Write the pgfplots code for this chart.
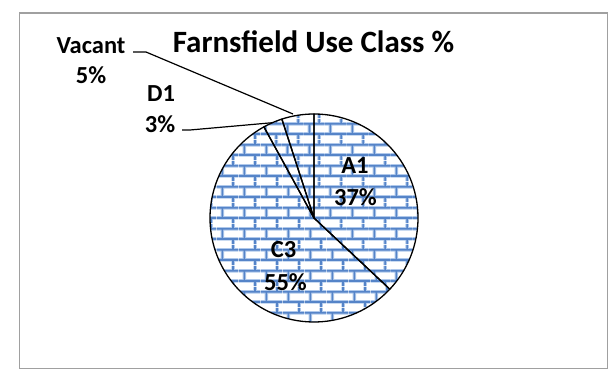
\documentclass[border=0pt]{standalone}
\usepackage{pgfplots}
\pgfplotsset{compat=1.18}
\usepackage{pgfplotstable}
\usepackage{fontspec}
\setmainfont{Carlito}
\usetikzlibrary{patterns}
\definecolor{brickblue}{RGB}{85,132,200}
\definecolor{bricklight}{RGB}{175,200,235}
\definecolor{framegray}{RGB}{160,160,160}
\newcommand\brickpattern[2]{%
\pgfdeclarepatternformonly{#1}{\pgfqpoint{0pt}{0pt}}{\pgfqpoint{21.7pt}{21pt}}{\pgfqpoint{21.7pt}{21pt}}{%
 \pgfsetlinewidth{#2}%
 \pgfpathmoveto{\pgfqpoint{0pt}{5.25pt}}\pgfpathlineto{\pgfqpoint{21.7pt}{5.25pt}}%
 \pgfpathmoveto{\pgfqpoint{0pt}{15.75pt}}\pgfpathlineto{\pgfqpoint{21.7pt}{15.75pt}}%
 \pgfpathmoveto{\pgfqpoint{5.4pt}{5.25pt}}\pgfpathlineto{\pgfqpoint{5.4pt}{15.75pt}}%
 \pgfpathmoveto{\pgfqpoint{16.25pt}{15.75pt}}\pgfpathlineto{\pgfqpoint{16.25pt}{21pt}}%
 \pgfpathmoveto{\pgfqpoint{16.25pt}{0pt}}\pgfpathlineto{\pgfqpoint{16.25pt}{5.25pt}}%
 \pgfusepath{stroke}%
}}
\brickpattern{bricksoft}{3.6pt}
\brickpattern{brickcore}{1.7pt}
\pgfplotstableread{
label value
A1 37
C3 55
D1 3
Vacant 5
}\piedata
\begin{document}
\begin{tikzpicture}
\begin{axis}[scale only axis, width=614pt, height=370pt,
  xmin=0, xmax=614, ymin=0, ymax=370, hide axis, clip=false]
\path (axis cs:0,0) rectangle (axis cs:614,370);
\draw[framegray, line width=1.6pt] (axis cs:19.5,1.5) rectangle (axis cs:607.5,357);
\def\cx{314}\def\cy{152}
\gdef\startang{90}
\pgfplotsforeachungrouped \i in {0,...,3}{%
  \pgfplotstablegetelem{\i}{value}\of\piedata
  \pgfmathsetmacro\endang{\startang-3.6*\pgfplotsretval}%
  \edef\temp{%
    \noexpand\fill[white] (axis cs:\cx,\cy) -- ++(\startang:104pt) arc[start angle=\startang, end angle=\endang, radius=104pt] -- cycle;
    \noexpand\fill[pattern=bricksoft, pattern color=bricklight] (axis cs:\cx,\cy) -- ++(\startang:104pt) arc[start angle=\startang, end angle=\endang, radius=104pt] -- cycle;
    \noexpand\fill[pattern=brickcore, pattern color=brickblue] (axis cs:\cx,\cy) -- ++(\startang:104pt) arc[start angle=\startang, end angle=\endang, radius=104pt] -- cycle;
  }\temp
  \global\let\startang\endang
}
\gdef\startang{90}
\pgfplotsforeachungrouped \i in {0,...,3}{%
  \pgfplotstablegetelem{\i}{value}\of\piedata
  \pgfmathsetmacro\endang{\startang-3.6*\pgfplotsretval}%
  \edef\temp{%
    \noexpand\draw[black, line width=1.3pt, line join=round] (axis cs:\cx,\cy) -- ++(\startang:104pt) arc[start angle=\startang, end angle=\endang, radius=104pt] -- cycle;
  }\temp
  \global\let\startang\endang
}
% leader lines
\draw[black, line width=1.2pt] (axis cs:133,318) -- (axis cs:146,318) -- (axis cs:293,256);
\draw[black, line width=1.2pt] (axis cs:182,240) -- (axis cs:190,240) -- (axis cs:272.5,247.3);
% title
\node[anchor=base, font=\fontsize{31}{36}\selectfont\bfseries, inner sep=0pt] at (axis cs:313.5,317) {Farnsfield Use Class \%};
% labels
\tikzset{lbl/.style={anchor=base, font=\fontsize{24.5}{30}\selectfont\bfseries, inner sep=0pt}}
\node[lbl] at (axis cs:91,316.7) {Vacant};
\node[lbl] at (axis cs:91,286) {5\%};
\node[lbl] at (axis cs:161,268.3) {D1};
\node[lbl] at (axis cs:160,237.3) {3\%};
\node[lbl] at (axis cs:355,196) {A1};
\node[lbl] at (axis cs:355.5,164) {37\%};
\node[lbl] at (axis cs:283.5,112.7) {C3};
\node[lbl] at (axis cs:285.5,79.3) {55\%};
\end{axis}
\end{tikzpicture}
\end{document}
